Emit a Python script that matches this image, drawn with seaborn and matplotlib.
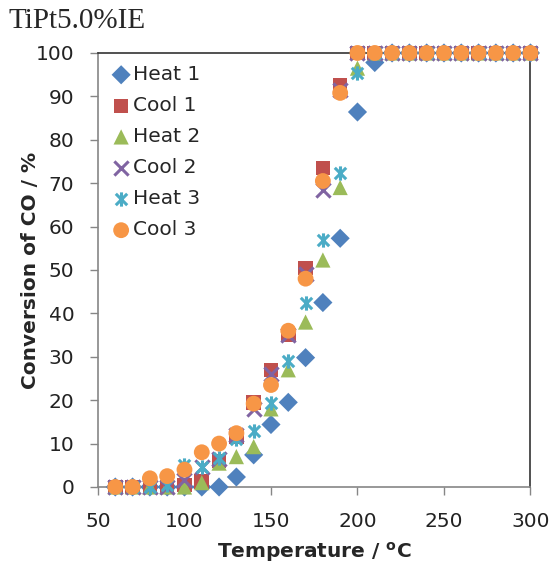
import numpy as np
import matplotlib
matplotlib.use("Agg")
import matplotlib.pyplot as plt
import seaborn as sns
from matplotlib.path import Path

# Data
temps = [60, 70, 80, 90, 100, 110, 120, 130, 140, 150, 160, 170, 180, 190,
         200, 210, 220, 230, 240, 250, 260, 270, 280, 290, 300]
top = [100] * 9

heat1 = [0, 0, 0, 0, 0, 0, 0, 2.3, 7.4, 14.4, 19.5, 29.8, 42.5, 57.3, 86.4, 97.8] + top
cool1 = [0, 0, 0, 0, 0.5, 1.2, 6, 11.5, 19.5, 27, 35, 50.5, 73.5, 92.5, 100, 100] + top
heat2 = [0, 0, 0, 0, 0, 1, 5.5, 7, 9.3, 18, 27, 38, 52.3, 69, 96.5, 100] + top
cool2 = [0, 0, 0, 0, 1.5, 4.5, 6.5, 12, 18, 26, 35, 49, 68.5, 91.5, 100, 100] + top
heat3 = [0, 0, 0, 0.5, 5, 4.5, 6.7, 11, 13, 19.3, 29, 42.3, 57, 72.3, 95.3, 100] + top
cool3 = [0, 0, 2, 2.5, 4, 8, 10, 12.4, 19.2, 23.5, 36, 48, 70.5, 90.8, 100, 100] + top

labels = ["Heat 1", "Cool 1", "Heat 2", "Cool 2", "Heat 3", "Cool 3"]
series = [heat1, cool1, heat2, cool2, heat3, cool3]

# -------------------------
# Styles
# -------------------------
star = Path([(-1, -1), (1, 1), (-1, 1), (1, -1), (0, -1.25), (0, 1.25)],
            [Path.MOVETO, Path.LINETO, Path.MOVETO, Path.LINETO, Path.MOVETO, Path.LINETO])

colors = ["#4F81BD", "#C0504D", "#9BBB59", "#8064A2", "#4BACC6", "#F79646"]
markers = ["D", "s", "^", "x", star, "o"]
sizes = [95, 110, 120, 105, 105, 130]

sns.set_style("white")
plt.rcParams['font.family'] = ['DejaVu Sans']

fig = plt.figure(figsize=(5.52, 5.66), dpi=100)
ax = fig.add_axes([0.1775, 0.1396, 0.7835, 0.7668])

for lab, vals, c, m, s in zip(labels, series, colors, markers, sizes):
    unfilled = m in ("x", star)
    sns.scatterplot(
        x=temps, y=vals, ax=ax, marker=m, s=s, label=lab,
        color=c, edgecolor=c if unfilled else "none",
        linewidth=2.2 if unfilled else 0, clip_on=False, zorder=3,
    )

ax.set_xlim(50, 300)
ax.set_ylim(0, 100)
ax.set_xticks(range(50, 301, 50))
ax.set_yticks(range(0, 101, 10))
ax.tick_params(axis='both', labelsize=14.5, direction='out', length=6,
               width=1, color="#868686", labelcolor="#222222", left=True, bottom=True)
ax.tick_params(axis='y', pad=11)
ax.tick_params(axis='x', pad=12)

for side in ["left", "bottom"]:
    ax.spines[side].set_color("#868686")
    ax.spines[side].set_linewidth(1.2)
for side in ["top", "right"]:
    ax.spines[side].set_color("#333333")
    ax.spines[side].set_linewidth(1.2)

ax.set_xlabel(r"Temperature / $^{\mathregular{o}}$C", fontsize=14.5, fontweight="bold")
ax.set_ylabel("Conversion of CO / %", fontsize=14.5, fontweight="bold")
ax.xaxis.set_label_coords(0.5, -0.122)
ax.yaxis.set_label_coords(-0.135, 0.5)

leg = ax.legend(loc="upper left", frameon=False, fontsize=14.5,
                handletextpad=0.05, labelspacing=0.6, borderaxespad=0.2,
                handlelength=1.1)

fig.text(0.015, 0.963, "TiPt5.0%IE", fontsize=21, family="Liberation Serif",
         va="center", ha="left")

plt.savefig("out.png", dpi=100)
plt.close()
